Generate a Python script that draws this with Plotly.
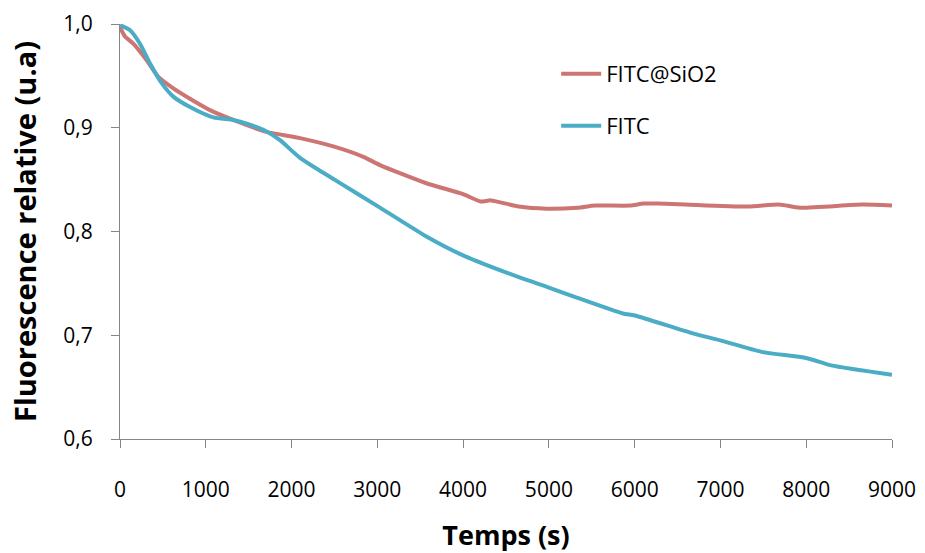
import plotly.graph_objects as go

# FITC@SiO2 (red)
t_sio2 = [0, 58, 155, 311, 447, 622, 816, 1049, 1321, 1710, 2098, 2487, 2837, 3031,
          3556, 4000, 4204, 4326, 4649, 4973, 5337, 5538, 5945, 6105, 6267, 6590,
          7322, 7685, 7927, 8653, 9000]
v_sio2 = [0.997, 0.988, 0.981, 0.965, 0.949, 0.938, 0.928, 0.917, 0.9075, 0.896, 0.890,
          0.882, 0.872, 0.864, 0.847, 0.836, 0.829, 0.830, 0.824, 0.822, 0.823, 0.825,
          0.825, 0.827, 0.827, 0.826, 0.824, 0.826, 0.823, 0.826, 0.825]

# FITC (blue)
t_fitc = [0, 117, 233, 350, 486, 622, 816, 1088, 1321, 1477, 1671, 1865, 2098, 2500,
          3031, 3556, 4000, 4649, 5000, 5300, 5863, 6000, 6669, 7000, 7481, 8000,
          8290, 9000]
v_fitc = [0.999, 0.994, 0.981, 0.962, 0.943, 0.930, 0.920, 0.910, 0.9075, 0.904, 0.898,
          0.888, 0.871, 0.850, 0.823, 0.796, 0.777, 0.756, 0.746, 0.737, 0.721, 0.719,
          0.702, 0.695, 0.684, 0.678, 0.671, 0.662]

x_ticks = [0, 1000, 2000, 3000, 4000, 5000, 6000, 7000, 8000, 9000]
y_ticks = [0.6, 0.7, 0.8, 0.9, 1.0]

RED = "#CC7573"
BLUE = "#4BACC6"
FONT = "Open Sans"

fig = go.Figure()
fig.add_trace(go.Scatter(x=t_sio2, y=v_sio2, mode="lines", name="FITC@SiO2",
                         line=dict(color=RED, width=4, shape="spline", smoothing=0.6),
                         legend="legend", showlegend=True))
fig.add_trace(go.Scatter(x=t_fitc, y=v_fitc, mode="lines", name="FITC",
                         line=dict(color=BLUE, width=4, shape="spline", smoothing=0.6),
                         legend="legend2", showlegend=True))

legend_common = dict(xref="paper", yref="paper", xanchor="left", yanchor="middle",
                     bgcolor="rgba(0,0,0,0)", font=dict(family=FONT, size=22, color="black"),
                     itemwidth=40, visible=True)
fig.update_layout(
    width=925, height=553,
    margin=dict(l=120, r=33, t=24, b=114),
    paper_bgcolor="white", plot_bgcolor="white",
    separators=", ",
    showlegend=True,
    font=dict(family=FONT, size=21, color="black"),
    legend=dict(x=0.565, y=(415 - 50) / 415, **legend_common),
    legend2=dict(x=0.565, y=(415 - 102) / 415, **legend_common),
    xaxis=dict(range=[0, 9000], tickvals=x_ticks, tickformat="d", automargin=False,
               showgrid=False, zeroline=False, showline=True, linecolor="#868686",
               linewidth=1, ticks="outside", ticklen=8, tickcolor="#868686",
               ticklabelstandoff=24,
               tickfont=dict(family=FONT, size=21, color="black"),
               title=dict(text="<b>Temps (s)</b>", font=dict(family=FONT, size=27),
                          standoff=39)),
    yaxis=dict(range=[0.6, 1.0], tickvals=y_ticks, tickformat=".1f", automargin=False,
               showgrid=False, zeroline=False, showline=True, linecolor="#868686",
               linewidth=1, ticks="outside", ticklen=8, tickcolor="#868686",
               ticklabelstandoff=14,
               tickfont=dict(family=FONT, size=21, color="black"),
               title=dict(text="<b>Fluorescence relative (u.a)</b>",
                          font=dict(family=FONT, size=29), standoff=18)),
)

fig.write_html("out.html")
